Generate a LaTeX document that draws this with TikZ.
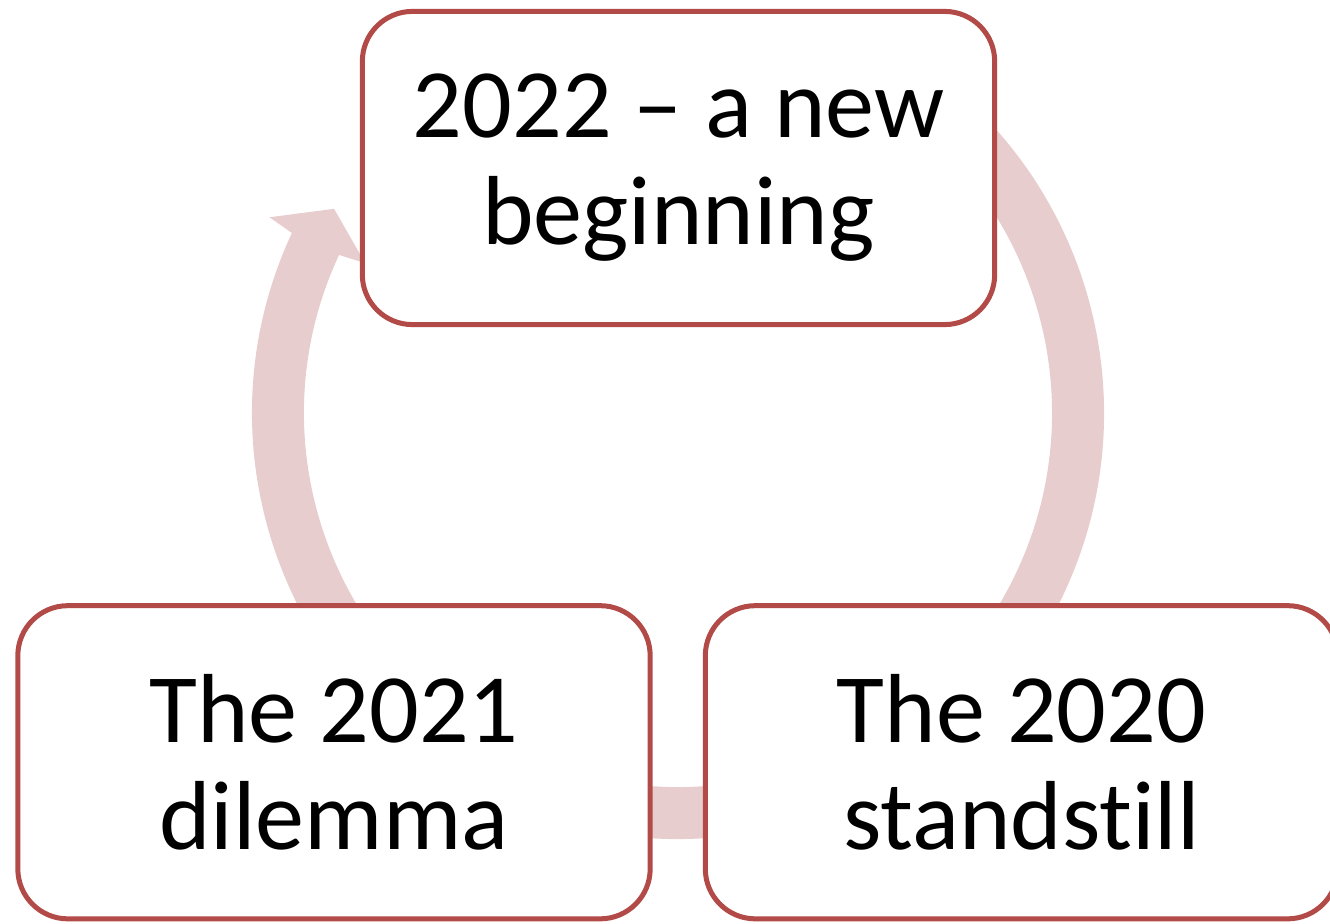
\documentclass[tikz,border=0pt]{standalone}
\usepackage{fontspec}
\setmainfont{Carlito}[Ligatures=NoCommon]
\usetikzlibrary{positioning}
\definecolor{boxred}{RGB}{178,75,72}
\definecolor{ringpink}{RGB}{232,205,206}
\tikzset{%
  stagebox/.style = {
    draw = boxred,
    fill = white,
    line width = 0.05cm,
    rounded corners = 0.5cm,
    align = center,
    minimum width = 6.32cm,
    minimum height = 3.13cm,
    inner sep = 0pt,
    font = \fontsize{27.9}{30.4}\selectfont,
  },
  ring/.style = {
    fill = ringpink,
    draw = none,
  },
}
\begin{document}
\begin{tikzpicture}[x=0.01cm, y=0.01cm]
\useasboundingbox (0,0) rectangle (1330,923);
\clip (0,0) rectangle (1330,923);

% the cycle arrow behind the stages
\begin{scope}[shift={(678,510)}]
\fill[ring] (60:426) arc[start angle=60, end angle=-205, radius=426]
  -- (-205.6:453) -- (-210.7:400) -- (-205.6:347)
  -- (-205:374) arc[start angle=-205, end angle=60, radius=374] -- cycle;
\end{scope}

\node(s22) [stagebox] at (678.5,755)  {2022 -- a new\\beginning};
\node(s21) [stagebox] at (334,160.75) {The 2021\\dilemma};
\node(s20) [stagebox] at (1021.5,160.75) {The 2020\\standstill};
\end{tikzpicture}
\end{document}
